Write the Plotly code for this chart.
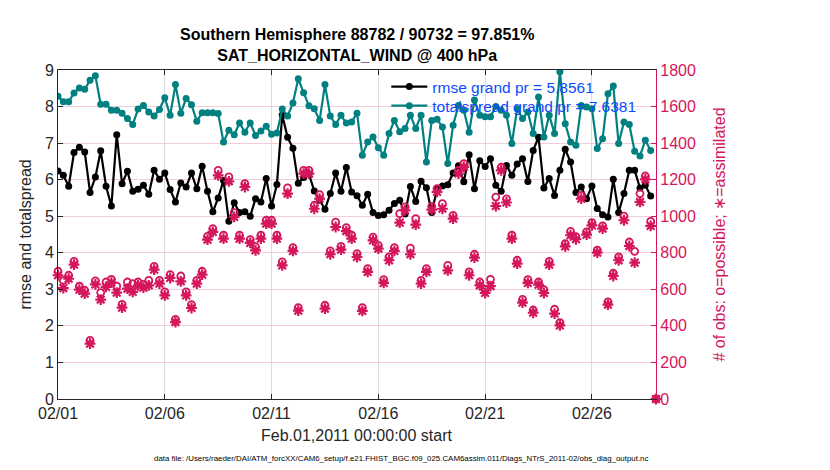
import pandas as pd
import plotly.graph_objects as go

# ---- data (6-hourly bins starting 2011-02-01 00:00) ----
rmse = [6.24, 6.12, 5.82, 6.74, 6.89, 6.76, 5.65, 6.07, 6.79, 5.82, 5.28, 7.23, 5.89, 6.23, 5.68, 5.74, 5.85, 5.60, 6.26, 6.01, 6.18, 5.73, 5.39, 5.91, 5.80, 6.18, 5.75, 6.37,
        5.68, 5.12, 5.50, 5.98, 4.86, 5.37, 5.10, 5.12, 5.00, 5.48, 5.39, 6.03, 5.28, 5.87, 7.77, 7.16, 6.86, 5.90, 6.06, 6.15, 5.69, 5.43, 5.19, 5.62, 6.18, 5.68, 6.33, 5.66,
        5.56, 5.30, 5.60, 5.10, 5.02, 5.04, 5.16, 5.35, 5.44, 5.06, 5.81, 5.40, 5.96, 5.78, 5.10, 5.75, 5.83, 5.86, 6.18, 6.38, 5.94, 6.68, 5.75, 6.52, 6.36, 6.57, 5.85, 5.68,
        6.39, 6.12, 6.43, 6.57, 5.95, 6.80, 7.16, 5.77, 6.03, 5.57, 6.26, 6.83, 6.48, 5.65, 5.80, 5.48, 5.83, 5.21, 5.04, 4.98, 6.01, 5.10, 5.62, 6.26, 6.26, 5.77, 5.85, 5.55]

totalspread = [8.28, 8.13, 8.13, 8.37, 8.51, 8.47, 8.72, 8.84, 8.06, 8.06, 7.90, 7.90, 7.82, 7.67, 7.51, 7.93, 8.03, 7.85, 7.74, 7.92, 8.24, 7.76, 8.60, 7.82, 8.22, 8.05, 7.60, 7.83,
               7.83, 7.83, 7.81, 7.03, 7.35, 7.23, 7.55, 7.30, 7.55, 7.21, 7.33, 7.46, 7.24, 7.28, 7.93, 7.74, 8.10, 8.76, 8.38, 8.02, 7.94, 7.62, 8.60, 7.74, 7.51, 7.76, 7.55, 7.58,
               7.82, 6.67, 7.03, 7.17, 6.87, 6.67, 7.26, 7.62, 7.31, 7.40, 7.76, 7.40, 7.76, 6.48, 7.62, 7.65, 7.44, 6.44, 7.49, 8.03, 7.90, 7.30, 8.18, 7.76, 7.72, 7.72, 8.00, 7.90,
               7.76, 6.99, 7.94, 7.67, 7.85, 7.26, 8.26, 7.17, 7.76, 7.26, 8.95, 7.53, 7.03, 6.94, 8.03, 7.99, 7.94, 6.85, 7.12, 8.35, 8.56, 6.99, 7.58, 7.51, 6.78, 6.65, 7.08, 6.80]

obs_assimilated = [677, 607, 658, 735, 598, 576, 303, 627, 544, 613, 637, 582, 500, 604, 586, 622, 609, 622, 708, 631, 567, 662, 421, 644, 567, 498, 631, 680,
                   872, 914, 1224, 877, 1191, 996, 877, 1160, 854, 813, 877, 959, 959, 877, 731, 1124, 810, 483, 1233, 1233, 1041, 1096, 494, 792, 941, 817, 919, 877,
                   777, 482, 695, 868, 823, 635, 759, 810, 965, 1032, 792, 954, 631, 695, 1036, 1133, 1041, 704, 987, 1233, 1270, 677, 773, 622, 580, 618, 1056, 1251,
                   1075, 877, 741, 527, 635, 472, 626, 580, 735, 467, 403, 835, 896, 874, 1096, 899, 950, 801, 932, 516, 673, 759, 978, 837, 746, 1078, 1202, 947,
                   0]

obs_possible = [699, 649, 677, 753, 617, 595, 321, 646, 582, 640, 655, 618, 518, 640, 631, 640, 627, 649, 726, 649, 586, 680, 436, 673, 586, 516, 649, 699,
                890, 932, 1251, 896, 1215, 1020, 896, 1178, 872, 832, 896, 978, 978, 896, 750, 1155, 828, 500, 1251, 1251, 1060, 1118, 513, 810, 968, 835, 938, 896,
                795, 500, 713, 886, 841, 653, 777, 828, 1014, 1051, 826, 987, 649, 713, 1054, 1151, 1069, 731, 1005, 1251, 1288, 695, 792, 640, 598, 655, 1105, 1268,
                1095, 896, 759, 545, 653, 487, 640, 598, 753, 491, 418, 850, 917, 888, 1114, 914, 965, 815, 947, 531, 688, 777, 1001, 859, 808, 1124, 1220, 972,
                0]

tick_dates = ["2011-02-01", "2011-02-06", "2011-02-11", "2011-02-16", "2011-02-21", "2011-02-26"]
tick_labels = ["02/01", "02/06", "02/11", "02/16", "02/21", "02/26"]

times_obs = pd.date_range("2011-02-01 00:00", periods=len(obs_possible), freq="6h")
times = times_obs[:len(rmse)]

CRIMSON = "#d4165c"
TEAL = "#008080"
BLUE = "#0a4bff"
FONT = "Liberation Sans"

fig = go.Figure()

fig.add_trace(go.Scatter(x=times_obs, y=obs_possible, yaxis="y2", mode="markers",
                         marker=dict(symbol="circle-open", size=7, color=CRIMSON, line=dict(width=1.8, color=CRIMSON)),
                         showlegend=False, cliponaxis=False))
fig.add_trace(go.Scatter(x=times_obs, y=obs_assimilated, yaxis="y2", mode="markers",
                         marker=dict(symbol="asterisk-open", size=9, color=CRIMSON, line=dict(width=2.2, color=CRIMSON)),
                         showlegend=False, cliponaxis=False))

fig.add_trace(go.Scatter(x=times, y=rmse, mode="lines+markers", name="rmse grand pr = 5.8561",
                         line=dict(color="black", width=2.2),
                         marker=dict(symbol="circle", size=7, color="black"), legend="legend"))
fig.add_trace(go.Scatter(x=times, y=totalspread, mode="lines+markers", name="totalspread grand pr = 7.6381",
                         line=dict(color=TEAL, width=2.2),
                         marker=dict(symbol="circle", size=7, color=TEAL), legend="legend2"))

LEG_X = 0.549
fig.update_layout(
    width=830, height=470,
    margin=dict(l=50, r=182, t=62, b=79),
    paper_bgcolor="white", plot_bgcolor="white",
    font=dict(family=FONT, color="#262626"),
    xaxis=dict(type="date", range=["2011-02-01", "2011-03-01"],
               tickvals=tick_dates, ticktext=tick_labels,
               showgrid=True, gridcolor="#dcdcdc", gridwidth=1,
               ticks="inside", ticklen=5, tickcolor="#262626",
               showline=True, linecolor="#262626", linewidth=1, mirror="ticks",
               tickfont=dict(size=16, color="#262626", family=FONT), zeroline=False),
    yaxis=dict(range=[0, 9], dtick=1, showgrid=True, gridcolor="#f3cbd9", gridwidth=1,
               ticks="inside", ticklen=5, tickcolor="#262626",
               showline=True, linecolor="#262626", linewidth=1,
               tickfont=dict(size=16, color="#262626", family=FONT), zeroline=False),
    yaxis2=dict(range=[0, 1800], dtick=200, overlaying="y", side="right",
                showgrid=False, ticks="inside", ticklen=5, tickcolor=CRIMSON,
                showline=True, linecolor=CRIMSON, linewidth=1.2,
                tickfont=dict(size=16, color=CRIMSON, family=FONT), zeroline=False),
    legend=dict(x=LEG_X, y=1.0, xanchor="left", yanchor="top",
                bgcolor="rgba(0,0,0,0)", font=dict(size=15.5, color=BLUE, family=FONT),
                tracegroupgap=0, itemwidth=36),
    legend2=dict(x=LEG_X, y=0.942, xanchor="left", yanchor="top",
                 bgcolor="rgba(0,0,0,0)", font=dict(size=15.5, color=BLUE, family=FONT),
                 tracegroupgap=0, itemwidth=36),
    showlegend=True,
)

fig.add_annotation(xref="paper", yref="paper", x=0.5, y=1, yanchor="bottom", yshift=4, showarrow=False,
                   text="<b>Southern Hemisphere 88782 / 90732 = 97.851%</b><br><b>SAT_HORIZONTAL_WIND @ 400 hPa</b>",
                   font=dict(size=16, color="black", family=FONT))
fig.add_annotation(xref="paper", yref="paper", x=0.5, y=0, yanchor="top", yshift=-26, showarrow=False,
                   text="Feb.01,2011 00:00:00 start", font=dict(size=16, color="#262626", family=FONT))
fig.add_annotation(xref="paper", yref="paper", x=0.574, y=0, yanchor="middle", yshift=-59, showarrow=False,
                   text="data file: /Users/raeder/DAI/ATM_forcXX/CAM6_setup/f.e21.FHIST_BGC.f09_025.CAM6assim.011/Diags_NTrS_2011-02/obs_diag_output.nc",
                   font=dict(size=7.9, color="black", family=FONT))
fig.add_annotation(xref="paper", yref="paper", x=-0.055, y=0.5, xanchor="center", yanchor="middle", textangle=-90,
                   showarrow=False, text="rmse and totalspread", font=dict(size=16, color="#262626", family=FONT))
fig.add_annotation(xref="paper", yref="paper", x=1.107, y=0.5, xanchor="center", yanchor="middle", textangle=-90,
                   showarrow=False, text="# of obs: o=possible; \u2217=assimilated", font=dict(size=16, color=CRIMSON, family=FONT))

fig.write_html("out.html")
